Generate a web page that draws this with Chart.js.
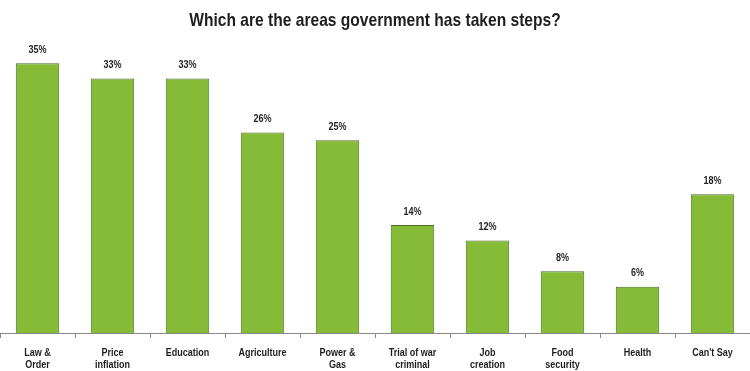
<!DOCTYPE html>
<html>
<head>
<meta charset="utf-8">
<script src="https://cdn.jsdelivr.net/npm/chart.js@4.4.0/dist/chart.umd.min.js"></script>
<style>
  html, body { margin: 0; padding: 0; background: #fff; }
  #wrap { width: 750px; height: 371px; }
</style>
</head>
<body>
<div id="wrap"><canvas id="chart"></canvas></div>
<script>
const categories = [
  ['Law &', 'Order'], ['Price', 'inflation'], ['Education'], ['Agriculture'], ['Power &', 'Gas'],
  ['Trial of war', 'criminal'], ['Job', 'creation'], ['Food', 'security'], ['Health'], ["Can't Say"]
];
const values = [35, 33, 33, 26, 25, 14, 12, 8, 6, 18];
const title = 'Which are the areas government has taken steps?';

const FONT = "'Liberation Sans', Arial, sans-serif";
const SQUEEZE = 0.82; // the original uses a narrow face

// draw text horizontally condensed, centred on x
function narrowText(ctx, text, x, y) {
  ctx.save();
  ctx.translate(x, y);
  ctx.scale(SQUEEZE, 1);
  ctx.fillText(text, 0, 0);
  ctx.restore();
}

const narrowLabels = {
  id: 'narrowLabels',
  afterDraw(chart) {
    const ctx = chart.ctx;
    const xs = chart.scales.x;
    const meta = chart.getDatasetMeta(0);
    ctx.save();
    ctx.fillStyle = '#1e1e1e';
    ctx.textAlign = 'center';

    // title
    ctx.font = 'bold 19px ' + FONT;
    ctx.textBaseline = 'middle';
    narrowText(ctx, title, chart.width / 2, 21);

    // values above bars
    ctx.font = 'bold 11px ' + FONT;
    ctx.textBaseline = 'bottom';
    meta.data.forEach((bar, i) => {
      narrowText(ctx, values[i] + '%', bar.x, bar.y - 8);
    });

    // category labels
    ctx.textBaseline = 'middle';
    categories.forEach((lines, i) => {
      const x = xs.getPixelForValue(i);
      lines.forEach((line, j) => {
        narrowText(ctx, line, x, xs.bottom + 15 + j * 12);
      });
    });
    ctx.restore();
  }
};

new Chart(document.getElementById('chart'), {
  type: 'bar',
  data: {
    labels: categories,
    datasets: [{
      data: values,
      backgroundColor: '#85BB36',
      borderColor: '#4f6b2c',
      borderWidth: 1,
      categoryPercentage: 1,
      barPercentage: 0.58,
    }]
  },
  options: {
    responsive: true,
    maintainAspectRatio: false,
    animation: false,
    layout: { padding: { left: 0, right: 0, top: 40, bottom: 33 } },
    plugins: {
      legend: { display: false },
      tooltip: { enabled: false },
      title: { display: false },
    },
    scales: {
      x: {
        grid: { drawOnChartArea: false, drawTicks: true, tickLength: 5, color: '#888', offset: true },
        border: { color: '#888', width: 1 },
        ticks: { display: false },
      },
      y: {
        display: false,
        min: 0,
        max: 38,
      },
    },
  },
  plugins: [narrowLabels],
});
</script>
</body>
</html>
